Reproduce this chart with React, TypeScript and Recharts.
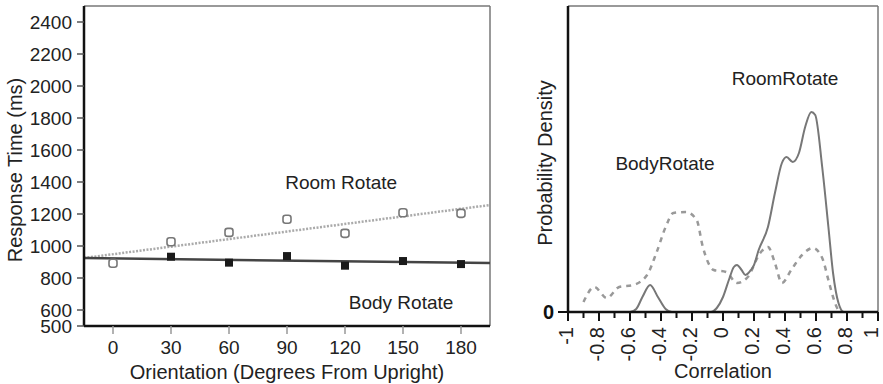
import React from 'react';
import { ComposedChart, Line, Scatter, XAxis, YAxis, ReferenceLine, ReferenceDot, Label } from 'recharts';

// ---- Left panel data ----
const orientations = [0, 30, 60, 90, 120, 150, 180];
const roomRT = [892, 1027, 1085, 1167, 1079, 1208, 1204];
const bodyOrient = [30, 60, 90, 120, 150, 180];
const bodyRT = [933, 896, 937, 877, 906, 887];
const fitX = [-15, 195];
const roomFit = [925, 1256];
const bodyFit = [925, 893];
const rtTicks = [500, 600, 800, 1000, 1200, 1400, 1600, 1800, 2000, 2200, 2400];
const orientTicks = [0, 30, 60, 90, 120, 150, 180];

// ---- Right panel data ----
const roomCorr = [-1, -0.6, -0.56, -0.52, -0.47, -0.42, -0.37, -0.33, -0.08, -0.04, 0, 0.04, 0.07, 0.09, 0.12, 0.145, 0.18, 0.2, 0.23, 0.29, 0.335, 0.38, 0.41, 0.45, 0.49, 0.53, 0.57, 0.595, 0.64, 0.68, 0.71, 0.745, 0.78, 0.85];
const roomDensity = [0, 0, 0.03, 0.15, 0.27, 0.15, 0.03, 0, 0, 0.04, 0.15, 0.33, 0.45, 0.47, 0.42, 0.37, 0.42, 0.47, 0.62, 0.85, 1.19, 1.49, 1.55, 1.5, 1.59, 1.85, 2.0, 1.97, 1.45, 0.85, 0.39, 0.09, 0, 0];
const bodyCorr = [-0.9, -0.83, -0.75, -0.67, -0.58, -0.49, -0.43, -0.37, -0.32, -0.24, -0.17, -0.13, -0.06, 0.02, 0.09, 0.16, 0.24, 0.29, 0.335, 0.38, 0.44, 0.51, 0.58, 0.64, 0.68, 0.71, 0.74, 0.76];
const bodyDensity = [0.1, 0.25, 0.14, 0.25, 0.27, 0.37, 0.59, 0.85, 0.99, 1.0, 0.92, 0.65, 0.42, 0.4, 0.29, 0.35, 0.59, 0.65, 0.49, 0.29, 0.42, 0.57, 0.64, 0.54, 0.32, 0.15, 0.03, 0];
const corrTicks = [-1, -0.9, -0.8, -0.7, -0.6, -0.5, -0.4, -0.3, -0.2, -0.1, 0, 0.1, 0.2, 0.3, 0.4, 0.5, 0.6, 0.7, 0.8, 0.9, 1];
const corrLabelled = [-1, -0.8, -0.6, -0.4, -0.2, 0, 0.2, 0.4, 0.6, 0.8, 1];

const FONT = '"Liberation Sans", Arial, Helvetica, sans-serif';
const TXT = '#222';

const roomPts = orientations.map((x, i) => ({ x, y: roomRT[i] }));
const bodyPts = bodyOrient.map((x, i) => ({ x, y: bodyRT[i] }));
const roomFitPts = fitX.map((x, i) => ({ x, y: roomFit[i] }));
const bodyFitPts = fitX.map((x, i) => ({ x, y: bodyFit[i] }));
const roomDens = roomCorr.map((x, i) => ({ x, y: roomDensity[i] }));
const bodyDens = bodyCorr.map((x, i) => ({ x, y: bodyDensity[i] }));

const OpenSquare = (p: any) => (
  <rect x={p.cx - 4} y={p.cy - 4} width={8} height={8} rx={2.5} fill="#fff" stroke="#777" strokeWidth={1.6} />
);
const FilledSquare = (p: any) => (
  <rect x={p.cx - 4} y={p.cy - 4} width={8} height={8} fill="#1a1a1a" />
);

const vTitle = (text: string, x: number, shift: number) => (props: any) => {
  const vb = props.viewBox || {};
  const cy = (vb.y || 0) + (vb.height || 0) / 2 + shift;
  return (
    <text
      x={x}
      y={cy}
      transform={`rotate(-90, ${x}, ${cy})`}
      textAnchor="middle"
      dominantBaseline="central"
      fontSize={20}
      fill={TXT}
      fontFamily={FONT}
    >
      {text}
    </text>
  );
};

const CorrTick = (props: any) => {
  const { x, y, payload } = props;
  const v = Math.round(payload.value * 10) / 10;
  const major = corrLabelled.some((t) => Math.abs(t - v) < 1e-6);
  const ty = y + 15;
  const tx = v === 1 ? x - 7 : x - 2;
  const label = v === 0 ? '0' : String(v);
  return (
    <g>
      <line x1={x} y1={y} x2={x} y2={y + (major ? 9 : 6)} stroke="#111" strokeWidth={2} />
      {major && (
        <text
          x={tx}
          y={ty}
          transform={`rotate(-90, ${tx}, ${ty})`}
          textAnchor="end"
          dominantBaseline="central"
          fontSize={20}
          fill={TXT}
          fontFamily={FONT}
        >
          {label}
        </text>
      )}
    </g>
  );
};

export default function App() {
  return (
    <div style={{ position: 'absolute', left: 0, top: 0, width: 883, height: 384, background: '#fff', fontFamily: FONT }}>
      <div style={{ position: 'absolute', left: 0, top: 0 }}>
        <ComposedChart width={500} height={384} margin={{ top: 6, right: 10, left: 0, bottom: 0 }}>
          <XAxis
            type="number"
            dataKey="x"
            domain={[-15, 195]}
            ticks={orientTicks}
            interval={0}
            allowDataOverflow
            height={58}
            tickSize={8}
            tickMargin={7}
            tick={{ fontSize: 19, fill: TXT, fontFamily: FONT }}
            tickLine={{ stroke: '#999', strokeWidth: 1.5 }}
            axisLine={{ stroke: '#111', strokeWidth: 2.5 }}
          >
            <Label value="Orientation (Degrees From Upright)" position="insideBottom" offset={5} fontSize={20} fill={TXT} fontFamily={FONT} />
          </XAxis>
          <YAxis
            type="number"
            domain={[500, 2500]}
            ticks={rtTicks}
            interval={0}
            allowDataOverflow
            width={84}
            tickSize={7}
            tickMargin={5}
            tick={{ fontSize: 19, fill: TXT, fontFamily: FONT }}
            tickLine={{ stroke: '#555', strokeWidth: 1.5 }}
            axisLine={{ stroke: '#111', strokeWidth: 2.5 }}
          >
            <Label content={vTitle('Response Time (ms)', 15, 4)} />
          </YAxis>
          <ReferenceLine y={2500} stroke="#777" strokeWidth={1.5} />
          <ReferenceLine x={195} stroke="#777" strokeWidth={1.5} />
          <Line data={roomFitPts} dataKey="y" type="linear" stroke="#aaa" strokeWidth={2.5} strokeDasharray="2 1.5" dot={false} isAnimationActive={false} />
          <Line data={bodyFitPts} dataKey="y" type="linear" stroke="#444" strokeWidth={2.5} dot={false} isAnimationActive={false} />
          <Scatter data={roomPts} dataKey="y" shape={OpenSquare} isAnimationActive={false} />
          <Scatter data={bodyPts} dataKey="y" shape={FilledSquare} isAnimationActive={false} />
          <ReferenceDot x={118} y={1400} r={1} fill="none" stroke="none" label={{ value: 'Room Rotate', position: 'center', fontSize: 19, fill: TXT, fontFamily: FONT }} />
          <ReferenceDot x={149} y={650} r={1} fill="none" stroke="none" label={{ value: 'Body Rotate', position: 'center', fontSize: 19, fill: TXT, fontFamily: FONT }} />
        </ComposedChart>
      </div>
      <div style={{ position: 'absolute', left: 500, top: 0 }}>
        <ComposedChart width={383} height={384} margin={{ top: 6, right: 5, left: 0, bottom: 0 }}>
          <XAxis
            type="number"
            dataKey="x"
            domain={[-1, 1]}
            ticks={corrTicks}
            interval={0}
            allowDataOverflow
            height={72}
            tickSize={0}
            tickMargin={0}
            tickLine={false}
            tick={CorrTick}
            axisLine={{ stroke: '#111', strokeWidth: 2.5 }}
          >
            <Label value="Correlation" position="insideBottom" offset={6} fontSize={20} fill={TXT} fontFamily={FONT} />
          </XAxis>
          <YAxis
            type="number"
            domain={[0, 3.06]}
            ticks={[0]}
            interval={0}
            allowDataOverflow
            width={68}
            tickSize={10}
            tickMargin={4}
            tick={{ fontSize: 20, fill: '#111', fontFamily: FONT, fontWeight: 'bold' }}
            tickLine={{ stroke: '#111', strokeWidth: 2 }}
            axisLine={{ stroke: '#111', strokeWidth: 2.5 }}
          >
            <Label content={vTitle('Probability Density', 45, 4)} />
          </YAxis>
          <ReferenceLine y={3.06} stroke="#777" strokeWidth={1.5} />
          <ReferenceLine x={1} stroke="#777" strokeWidth={1.5} />
          <Line data={bodyDens} dataKey="y" type="monotone" stroke="#999" strokeWidth={2.5} strokeDasharray="5 5" dot={false} isAnimationActive={false} />
          <Line data={roomDens} dataKey="y" type="monotone" stroke="#777" strokeWidth={2} dot={false} isAnimationActive={false} />
          <ReferenceDot x={0.4} y={2.34} r={1} fill="none" stroke="none" label={{ value: 'RoomRotate', position: 'center', fontSize: 19, fill: TXT, fontFamily: FONT }} />
          <ReferenceDot x={-0.374} y={1.49} r={1} fill="none" stroke="none" label={{ value: 'BodyRotate', position: 'center', fontSize: 19, fill: TXT, fontFamily: FONT }} />
        </ComposedChart>
      </div>
    </div>
  );
}
